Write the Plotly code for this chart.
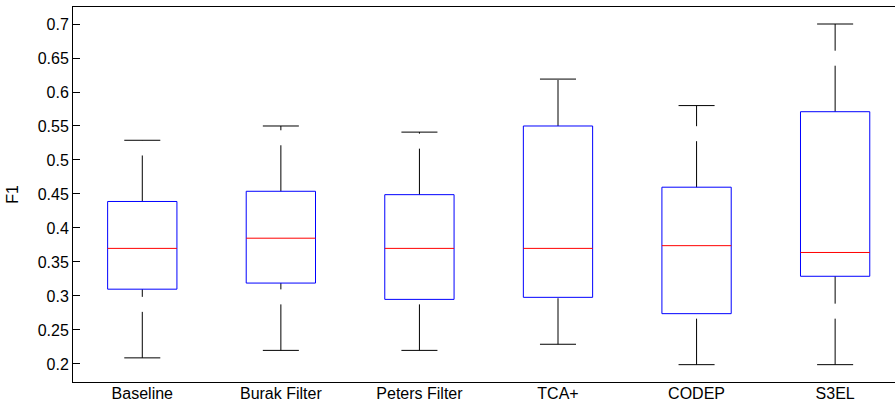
import plotly.graph_objects as go

categories = ["Baseline", "Burak Filter", "Peters Filter", "TCA+", "CODEP", "S3EL"]
lower_whisker = [0.209, 0.220, 0.220, 0.229, 0.199, 0.199]
q1 = [0.310, 0.319, 0.295, 0.298, 0.274, 0.329]
median = [0.370, 0.385, 0.370, 0.370, 0.374, 0.364]
q3 = [0.439, 0.454, 0.449, 0.550, 0.460, 0.571]
upper_whisker = [0.529, 0.550, 0.541, 0.619, 0.580, 0.700]
y_ticks = [0.2, 0.25, 0.3, 0.35, 0.4, 0.45, 0.5, 0.55, 0.6, 0.65, 0.7]

BOX_HALF = 0.25
CAP_HALF = 0.13
BLUE = "#0000FF"
RED = "#FF0000"
BLACK = "#000000"

fig = go.Figure()
positions = list(range(1, len(categories) + 1))

for i, p in enumerate(positions):
    # whiskers (dashed), drawn from the lower point upward
    fig.add_trace(go.Scatter(x=[p, p], y=[lower_whisker[i], q1[i]], mode="lines",
                             line=dict(color=BLACK, width=1, dash="46px,15px"),
                             showlegend=False, hoverinfo="skip"))
    fig.add_trace(go.Scatter(x=[p, p], y=[q3[i], upper_whisker[i]], mode="lines",
                             line=dict(color=BLACK, width=1, dash="46px,15px"),
                             showlegend=False, hoverinfo="skip"))
    # caps
    for v in (lower_whisker[i], upper_whisker[i]):
        fig.add_trace(go.Scatter(x=[p - CAP_HALF, p + CAP_HALF], y=[v, v], mode="lines",
                                 line=dict(color=BLACK, width=1),
                                 showlegend=False, hoverinfo="skip"))
    # box
    fig.add_trace(go.Scatter(x=[p - BOX_HALF, p + BOX_HALF, p + BOX_HALF, p - BOX_HALF, p - BOX_HALF],
                             y=[q1[i], q1[i], q3[i], q3[i], q1[i]], mode="lines",
                             line=dict(color=BLUE, width=1),
                             showlegend=False, hoverinfo="skip"))
    # median
    fig.add_trace(go.Scatter(x=[p - BOX_HALF, p + BOX_HALF], y=[median[i], median[i]], mode="lines",
                             line=dict(color=RED, width=1),
                             showlegend=False, hoverinfo="skip"))

font = dict(family="Liberation Sans, Arial, sans-serif", size=16, color="#000000")

fig.update_layout(
    width=895, height=403,
    margin=dict(l=73, r=0, t=7, b=21),
    paper_bgcolor="white", plot_bgcolor="white",
    font=font,
    showlegend=False,
)
fig.update_xaxes(
    range=[0.5, 6.432], tickvals=positions, ticktext=categories,
    showgrid=False, zeroline=False, showline=True, mirror=True,
    linecolor="black", linewidth=1, ticks="", tickfont=font, automargin=False,
    ticklabelstandoff=-3,
)
fig.update_yaxes(
    range=[0.1735, 0.725], tickvals=y_ticks, ticktext=[f"{t:g}" for t in y_ticks],
    showgrid=False, zeroline=False, showline=True, mirror=False,
    linecolor="black", linewidth=1, ticks="inside", ticklen=7, tickcolor="black",
    tickfont=font, automargin=False,
    title=dict(text="F1", font=font, standoff=15),
)

fig.write_html("out.html", config={"displayModeBar": False},
               post_script="document.body.style.margin='0';document.body.style.overflow='hidden';")
